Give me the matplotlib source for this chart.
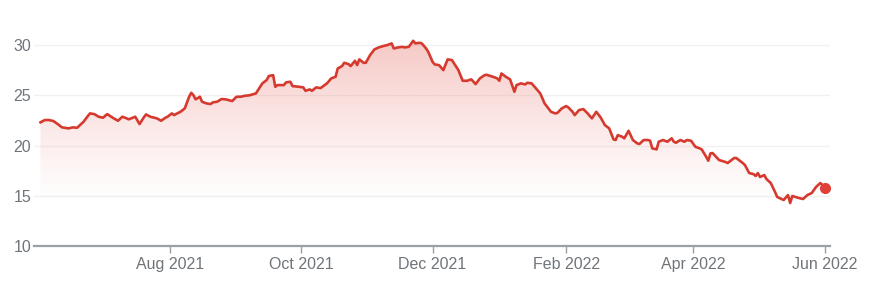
import numpy as np
import pandas as pd
import matplotlib
matplotlib.use("Agg")
import matplotlib.pyplot as plt
import matplotlib.dates as mdates
from matplotlib.patches import Polygon

# days since 2021-06-01 and closing price
day_offsets = [1, 3, 5, 7, 9, 11, 14, 16, 18, 21, 23, 24, 26, 28, 30, 32, 35, 37, 39, 41,
               42, 45, 47, 49, 50, 52, 55, 57, 59, 60, 62, 63, 65, 66, 68, 70, 71, 72, 73, 75,
               76, 78, 80, 81, 83, 85, 87, 90, 92, 94, 96, 98, 101, 102, 104, 106, 107, 109, 110, 111,
               114, 115, 117, 118, 121, 123, 124, 126, 127, 129, 131, 134, 136, 138, 139, 141, 142, 144, 145, 147,
               148, 149, 151, 152, 154, 156, 158, 160, 162, 164, 165, 167, 169, 170, 172, 174, 175, 177, 178, 180,
               181, 183, 184, 186, 188, 190, 192, 193, 195, 197, 199, 201, 203, 205, 207, 208, 210, 211, 213, 214,
               215, 217, 219, 221, 222, 224, 226, 227, 229, 231, 233, 235, 238, 240, 241, 243, 245, 246, 248, 249,
               251, 253, 255, 256, 257, 259, 261, 263, 265, 267, 268, 269, 271, 272, 274, 276, 278, 279, 281, 283,
               284, 285, 287, 288, 290, 292, 294, 295, 296, 298, 300, 301, 303, 305, 307, 308, 310, 311, 312, 313,
               316, 319, 320, 323, 324, 327, 328, 330, 332, 333, 334, 335, 337, 338, 340, 342, 343, 346, 348, 349,
               350, 353, 355, 357, 359, 361, 363, 364, 365]
prices = [22.31, 22.54, 22.54, 22.44, 22.14, 21.81, 21.71, 21.81, 21.77, 22.37, 22.94, 23.20, 23.13, 22.87, 22.77, 23.13, 22.71, 22.47, 22.87, 22.71,
          22.61, 22.87, 22.14, 22.81, 23.10, 22.87, 22.71, 22.47, 22.77, 22.87, 23.20, 23.03, 23.26, 23.36, 23.70, 24.86, 25.25, 25.02, 24.60, 24.86,
          24.36, 24.20, 24.13, 24.30, 24.36, 24.63, 24.60, 24.43, 24.86, 24.86, 24.96, 25.00, 25.19, 25.52, 26.19, 26.52, 26.92, 27.01, 25.85, 26.02,
          26.02, 26.29, 26.35, 25.92, 25.85, 25.79, 25.45, 25.59, 25.45, 25.79, 25.72, 26.19, 26.69, 26.85, 27.68, 27.91, 28.24, 28.11, 27.91, 28.44,
          28.01, 28.58, 28.24, 28.24, 29.00, 29.57, 29.77, 29.90, 30.00, 30.17, 29.67, 29.77, 29.83, 29.77, 29.83, 30.43, 30.17, 30.23, 30.17, 29.67,
          29.33, 28.34, 28.08, 28.01, 27.51, 28.58, 28.51, 28.18, 27.51, 26.45, 26.45, 26.59, 26.12, 26.69, 26.99, 27.05, 26.92, 26.85, 26.69, 26.45,
          27.18, 26.85, 26.59, 25.35, 26.02, 26.19, 26.09, 26.25, 26.19, 25.69, 25.19, 24.20, 23.36, 23.20, 23.26, 23.70, 23.93, 23.80, 23.36, 23.03,
          23.53, 23.63, 23.20, 22.94, 22.71, 23.36, 22.81, 22.04, 21.71, 20.62, 20.55, 21.04, 20.88, 20.72, 21.47, 20.55, 20.22, 20.15, 20.55, 20.55,
          20.48, 19.72, 19.62, 20.38, 20.55, 20.38, 20.72, 20.38, 20.28, 20.55, 20.38, 20.55, 20.48, 19.88, 19.72, 19.60, 18.89, 18.49, 19.22, 19.25,
          18.56, 18.36, 18.26, 18.76, 18.76, 18.26, 18.06, 17.26, 17.16, 16.97, 17.26, 16.87, 17.06, 16.67, 16.27, 15.37, 14.88, 14.58, 15.07, 14.28,
          14.98, 14.78, 14.68, 15.07, 15.27, 15.87, 16.27, 16.07, 15.77]
y_ticks = [10, 15, 20, 25, 30]
x_tick_dates = ["2021-08-01", "2021-10-01", "2021-12-01", "2022-02-01", "2022-04-01", "2022-06-01"]

dates = pd.Timestamp("2021-06-01") + pd.to_timedelta(day_offsets, unit="D")
x = mdates.date2num(dates)
y = np.array(prices)

red = "#d63a2f"
grey = "#70757a"

fig = plt.figure(figsize=(8.78, 2.82), dpi=100)
ax = fig.add_axes([34 / 878, 36 / 282, 796 / 878, (246 - 20) / 282])

x_left = mdates.date2num(pd.Timestamp("2021-05-30"))
x_right = mdates.date2num(pd.Timestamp("2022-06-03 12:00"))
y_bottom, y_top = 10, 32.5
ax.set_xlim(x_left, x_right)
ax.set_ylim(y_bottom, y_top)

# gradient fill under the line
grad = np.zeros((256, 1, 4))
rgb = matplotlib.colors.to_rgb("#e0453a")
grad[:, 0, :3] = rgb
grad[:, 0, 3] = np.linspace(0.36, 0.0, 256) ** 1.2
g_top = y.max()
g_bot = 14.0
im = ax.imshow(grad, extent=[x[0], x[-1], g_bot, g_top], aspect="auto",
               origin="upper", zorder=1, interpolation="bilinear")
poly = Polygon(np.column_stack([np.r_[x[0], x, x[-1]], np.r_[y_bottom, y, y_bottom]]),
               closed=True, facecolor="none", edgecolor="none")
ax.add_patch(poly)
im.set_clip_path(poly)

ax.plot(x, y, color=red, lw=1.9, zorder=3, solid_joinstyle="round")
ax.plot(x[-1], y[-1], "o", color="#e0403a", ms=7, zorder=4)

ax.set_yticks(y_ticks)
ax.grid(axis="y", color="#f1f1f1", lw=1, zorder=0)
ax.set_axisbelow(True)

ax.set_xticks(mdates.date2num(pd.to_datetime(x_tick_dates)))
ax.xaxis.set_major_formatter(mdates.DateFormatter("%b %Y"))

for s in ["top", "right", "left"]:
    ax.spines[s].set_visible(False)
ax.spines["bottom"].set_color("#9aa0a6")
ax.spines["bottom"].set_linewidth(1.6)

ax.tick_params(axis="x", colors="#9aa0a6", length=5, width=1, pad=3, labelcolor=grey,
               labelsize=11.5)
ax.tick_params(axis="y", length=0, pad=2, labelcolor=grey, labelsize=11.5)
for lab in ax.get_xticklabels() + ax.get_yticklabels():
    lab.set_fontfamily("Liberation Sans")

fig.savefig("out.png", dpi=100, facecolor="white")
